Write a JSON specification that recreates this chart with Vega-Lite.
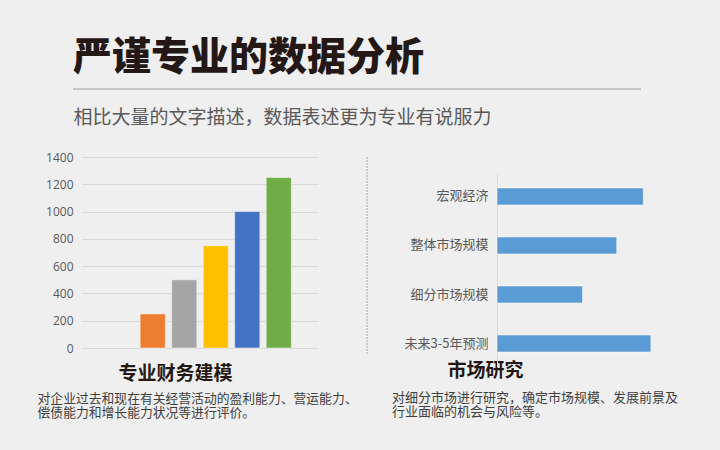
{
  "$schema": "https://vega.github.io/schema/vega-lite/v6.json",
  "background": "#efefef",
  "padding": {"left": 37, "top": 39, "right": 33, "bottom": 33},
  "bounds": "flush",
  "spacing": 67,
  "config": {
    "font": "Noto Sans CJK SC",
    "view": {"stroke": null}
  },
  "vconcat": [
    {
      "width": 568,
      "height": 0.01,
      "data": {"values": [{"from": 0, "to": 1}]},
      "mark": {"type": "rule", "color": "#c8c8c8", "strokeWidth": 2},
      "encoding": {
        "x": {
          "field": "from", "type": "quantitative",
          "scale": {"domain": [0, 1]},
          "axis": {
            "title": "相比大量的文字描述，数据表述更为专业有说服力",
            "labels": false, "ticks": false, "domain": false, "grid": false,
            "titleFontSize": 19, "titleFontWeight": "normal", "titleColor": "#595959",
            "titleAnchor": "start", "titleAlign": "left", "titlePadding": 19
          }
        },
        "x2": {"field": "to"}
      },
      "title": {
        "text": "严谨专业的数据分析",
        "anchor": "start", "frame": "group",
        "fontSize": 39, "fontWeight": 900, "color": "#231815", "offset": 10
      }
    },
    {
      "bounds": "flush",
      "spacing": 8,
      "hconcat": [
        {
          "width": 0.01, "height": 0.01,
          "data": {"values": []},
          "mark": "point",
          "encoding": {}
        },
        {
          "bounds": "flush",
          "spacing": 49,
          "hconcat": [
            {
              "width": 236,
              "height": 191,
              "data": {"values": [
                {"series": "系列1", "value": 250},
                {"series": "系列2", "value": 500},
                {"series": "系列3", "value": 750},
                {"series": "系列4", "value": 1000},
                {"series": "系列5", "value": 1250}
              ]},
              "mark": {"type": "bar", "stroke": "#ffffff", "strokeOpacity": 0.5, "strokeWidth": 1},
              "encoding": {
                "x": {
                  "field": "series", "type": "nominal", "sort": null,
                  "scale": {
                    "domain": ["系列0", "系列1", "系列2", "系列3", "系列4", "系列5"],
                    "paddingInner": 0.2, "paddingOuter": 0.845
                  },
                  "axis": {
                    "labels": false, "ticks": false, "domain": false, "grid": false,
                    "title": "专业财务建模",
                    "titleFontSize": 19, "titleFontWeight": "bold", "titleColor": "#231815",
                    "titlePadding": 16, "titleX": 93, "titleAlign": "center"
                  }
                },
                "y": {
                  "field": "value", "type": "quantitative",
                  "scale": {"domain": [0, 1400], "nice": false},
                  "axis": {
                    "values": [0, 200, 400, 600, 800, 1000, 1200, 1400],
                    "format": "d",
                    "title": null, "domain": false, "ticks": false,
                    "gridColor": "#d9d9d9", "gridWidth": 1,
                    "labelFontSize": 12, "labelColor": "#595959", "labelPadding": 9,
                    "labelFont": "Open Sans"
                  }
                },
                "color": {
                  "field": "series", "type": "nominal",
                  "scale": {
                    "domain": ["系列1", "系列2", "系列3", "系列4", "系列5"],
                    "range": ["#ED7D31", "#A5A5A5", "#FFC000", "#4472C4", "#70AD47"]
                  },
                  "legend": null
                }
              },
              "title": {
                "text": ["对企业过去和现在有关经营活动的盈利能力、营运能力、", "偿债能力和增长能力状况等进行评价。"],
                "orient": "bottom", "anchor": "start", "frame": "bounds",
                "fontSize": 12.8, "fontWeight": "normal", "color": "#404040",
                "lineHeight": 14, "offset": 10, "dx": -8
              }
            },
            {
              "width": 81,
              "height": 197,
              "data": {"values": [{"pos": 0}]},
              "mark": {"type": "rule", "color": "#cccccc", "strokeWidth": 2, "strokeDash": [2, 1]},
              "encoding": {
                "x": {"field": "pos", "type": "quantitative", "scale": {"domain": [0, 1]}, "axis": null}
              }
            },
            {
              "bounds": "flush",
              "spacing": 15,
              "vconcat": [
                {
                  "width": 0.01, "height": 0.01,
                  "data": {"values": []},
                  "mark": "point",
                  "encoding": {}
                },
                {
                  "width": 190,
                  "height": 194,
                  "data": {"values": [
                    {"item": "宏观经济", "value": 77},
                    {"item": "整体市场规模", "value": 63},
                    {"item": "细分市场规模", "value": 45},
                    {"item": "未来3-5年预测", "value": 81}
                  ]},
                  "mark": {"type": "bar", "color": "#5B9BD5", "stroke": "#ffffff", "strokeOpacity": 0.5, "strokeWidth": 1},
                  "encoding": {
                    "y": {
                      "field": "item", "type": "nominal", "sort": null,
                      "scale": {"paddingInner": 0.653, "paddingOuter": 0.306},
                      "axis": {
                        "title": null, "ticks": false, "domain": true, "domainColor": "#d9d9d9",
                        "grid": false, "labelFontSize": 13, "labelColor": "#595959", "labelPadding": 9
                      }
                    },
                    "x": {
                      "field": "value", "type": "quantitative",
                      "scale": {"domain": [0, 100], "nice": false},
                      "axis": {
                        "labels": false, "ticks": false, "domain": false, "grid": false,
                        "title": "市场研究",
                        "titleFontSize": 19, "titleFontWeight": "bold", "titleColor": "#231815",
                        "titlePadding": -6, "titleX": -12, "titleAlign": "center"
                      }
                    }
                  },
                  "title": {
                    "text": ["对细分市场进行研究，确定市场规模、发展前景及", "行业面临的机会与风险等。"],
                    "orient": "bottom", "anchor": "start", "frame": "bounds",
                    "fontSize": 13, "fontWeight": "normal", "color": "#404040",
                    "lineHeight": 14, "offset": 12, "dx": -12
                  }
                }
              ]
            }
          ]
        }
      ]
    }
  ]
}
